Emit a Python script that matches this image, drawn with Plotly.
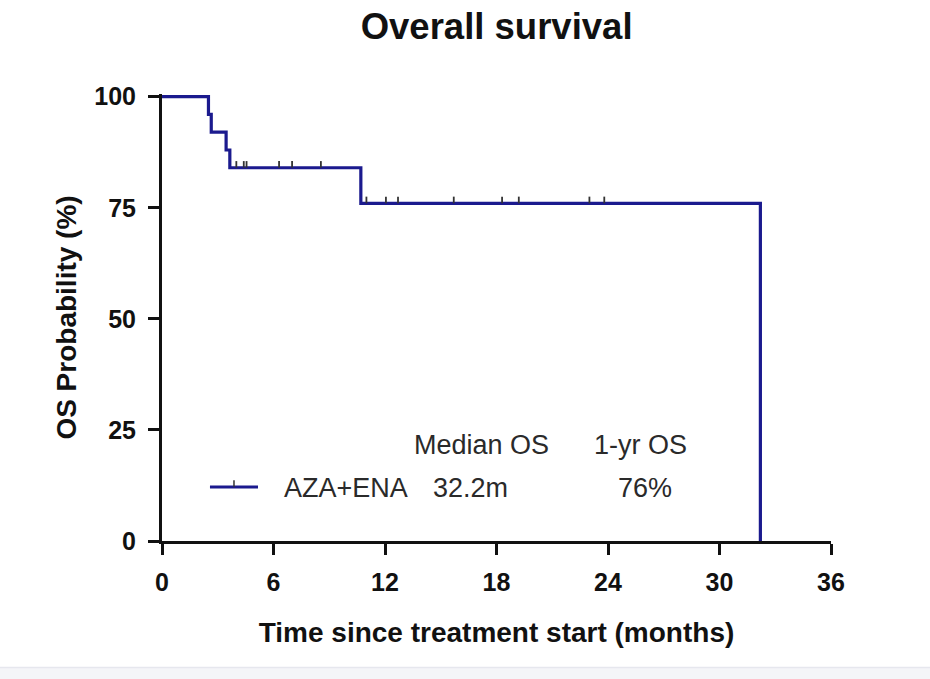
import numpy as np
import plotly.graph_objects as go

# Kaplan-Meier step curve: event times (months) and survival (%) after each step
event_times = [0, 2.5, 2.65, 3.45, 3.65, 10.7, 32.2]
survival_pct = [100, 96, 92, 88, 84, 76, 0]

# Censored observations (months)
censor_times = [4.0, 4.4, 4.55, 6.3, 7.0, 8.55,
                11.0, 12.05, 12.7, 15.7, 18.3, 19.2, 23.0, 23.8]

x_ticks = [0, 6, 12, 18, 24, 30, 36]
y_ticks = [0, 25, 50, 75, 100]

group_name = "AZA+ENA"
median_os = "32.2m"
one_year_os = "76%"

LINE_COLOR = "#1b1a8e"
AXIS_COLOR = "#111111"
TEXT_COLOR = "#2a2a2a"


def level_at(t):
    idx = np.searchsorted(event_times, t, side="right") - 1
    return survival_pct[idx]


censor_levels = [level_at(t) for t in censor_times]

fig = go.Figure()

fig.add_trace(go.Scatter(
    x=event_times, y=survival_pct,
    mode="lines", line=dict(color=LINE_COLOR, width=3.2, shape="hv"),
    showlegend=False, hoverinfo="skip",
))

# censor marks: short upward ticks on the curve
fig.add_trace(go.Scatter(
    x=censor_times, y=censor_levels,
    mode="markers", marker=dict(size=1, color="rgba(0,0,0,0)"),
    error_y=dict(type="constant", value=1.5, valueminus=0, symmetric=False,
                 width=0, thickness=1.8, color="#333333"),
    showlegend=False, hoverinfo="skip",
))

tick_font = dict(family="Liberation Sans, Arial", size=25, color=AXIS_COLOR)
title_font = dict(family="Liberation Sans, Arial", size=28, color=AXIS_COLOR)

fig.update_xaxes(
    range=[0, 36], tickvals=x_ticks, ticktext=[f"<b>{v}</b>" for v in x_ticks],
    showline=True, linecolor=AXIS_COLOR, linewidth=3,
    ticks="outside", ticklen=11, tickwidth=3, tickcolor=AXIS_COLOR,
    ticklabelstandoff=6,
    showgrid=False, zeroline=False,
    tickfont=tick_font,
    title=dict(text="<b>Time since treatment start (months)</b>", font=title_font, standoff=28),
)
fig.update_yaxes(
    range=[0, 100.6], tickvals=y_ticks, ticktext=[f"<b>{v}</b>" for v in y_ticks],
    showline=True, linecolor=AXIS_COLOR, linewidth=3,
    ticks="outside", ticklen=11, tickwidth=3, tickcolor=AXIS_COLOR,
    ticklabelstandoff=7,
    showgrid=False, zeroline=False,
    tickfont=tick_font,
    title=dict(text="<b>OS Probability (%)</b>", font=title_font, standoff=10),
)

ann_font = dict(family="Liberation Sans, Arial", size=27, color=TEXT_COLOR)
annotations = [
    dict(text="Median OS", x=0.477, y=0.215),
    dict(text="1-yr OS", x=0.7145, y=0.215),
    dict(text=group_name, x=0.275, y=0.1186),
    dict(text=median_os, x=0.4604, y=0.1186),
    dict(text=one_year_os, x=0.722, y=0.1186),
]
for a in annotations:
    fig.add_annotation(text=a["text"], x=a["x"], y=a["y"], xref="paper", yref="paper",
                       xanchor="center", yanchor="middle", showarrow=False, font=ann_font)

# legend sample: line with a censor tick
fig.add_shape(type="line", xref="paper", yref="paper", x0=0.0717, x1=0.1435, y0=0.1208, y1=0.1208,
              line=dict(color=LINE_COLOR, width=3))
fig.add_shape(type="line", xref="paper", yref="paper", x0=0.1076, x1=0.1076, y0=0.1208, y1=0.1360,
              line=dict(color="#333333", width=1.5))

# faint band at the bottom edge of the page
fig.add_shape(type="rect", xref="paper", yref="paper", x0=-0.3, x1=1.2, y0=-0.283, y1=-0.31,
              fillcolor="#f4f5f8", line=dict(width=0), layer="below")
fig.add_shape(type="line", xref="paper", yref="paper", x0=-0.3, x1=1.2, y0=-0.283, y1=-0.283,
              line=dict(color="#e6e7ee", width=1.5), layer="below")

fig.update_layout(
    width=930, height=679,
    margin=dict(l=162, r=99, t=94, b=138),
    paper_bgcolor="white", plot_bgcolor="white",
    title=dict(text="<b>Overall survival</b>", x=0.534, xanchor="center", y=0.962, yanchor="middle",
               font=dict(family="Liberation Sans, Arial", size=36.5, color="#111111")),
)

fig.write_html("out.html")
